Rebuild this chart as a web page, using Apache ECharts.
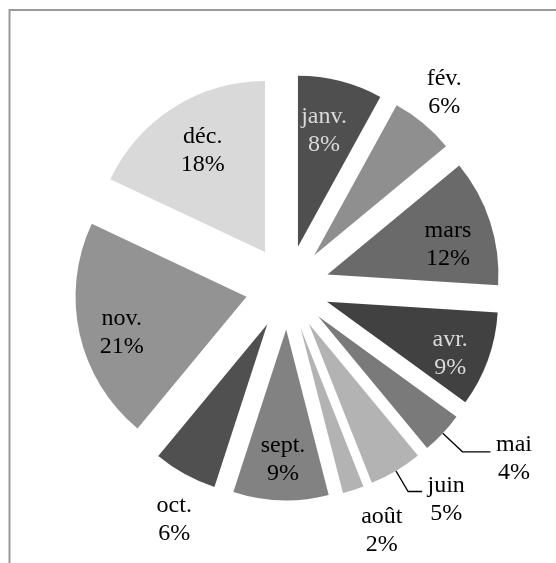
<!DOCTYPE html>
<html><head><meta charset="utf-8">
<script src="https://cdn.jsdelivr.net/npm/echarts@6/dist/echarts.min.js"></script>
<style>html,body{margin:0;padding:0;background:#fff}#c{width:556px;height:563px}</style>
</head><body><div id="c"></div>
<script>
// ---- data ----
const months = ['janv.','fév.','mars','avr.','mai','juin','août','sept.','oct.','nov.','déc.'];
const shares = [8, 6, 12, 9, 4, 5, 2, 9, 6, 21, 18];

// ---- styles ----
const sliceColors = ['#4f4f4f','#8f8f8f','#6a6a6a','#414141','#7a7a7a','#b3b3b3','#b3b3b3','#828282','#505050','#939393','#d9d9d9'];
const textColors  = ['#d9d9d9','#000','#000','#d9d9d9','#000','#000','#000','#000','#000','#000','#000'];
const innerSet  = ['janv.','mars','avr.','sept.','nov.','déc.'];
const outerSet  = ['fév.','août','oct.'];
const leaderSet = ['mai','juin'];
const innerShift = {'janv.':[-7,13],'mars':[-6,11.5],'avr.':[-2,7],'sept.':[1,-3],'nov.':[5,7],'déc.':[9,11]};
const outerShift = {'fév.':[-9,6],'août':[14,-4],'oct.':[12,4]};
// [line length, line length2, vertical spacer, text box width]
const leaderLen  = {'mai':[27,28,14,37],'juin':[24,14,17,38]};

const CENTER = [287.5, 287.5], R = 171, OFFSET = 42;
const font = {fontFamily:'"Liberation Serif","Times New Roman",serif', fontSize:24, lineHeight:28};

function items(showSet, extra) {
  return months.map((m, i) => {
    const show = showSet.indexOf(m) >= 0;
    const it = {name: m, value: shares[i], selected: true,
      label: Object.assign({show: show, color: textColors[i]}, font)};
    if (extra) extra(it, m, i, show);
    return it;
  });
}
const common = {
  type:'pie', center: CENTER, startAngle: 90, clockwise: true,
  selectedMode:'multiple', selectedOffset: OFFSET, avoidLabelOverlap: false,
  emphasis:{disabled:true}, animation:false, silent:true
};

const main = Object.assign({}, common, {
  radius: R,
  data: items(leaderSet, (it, m, i, show) => {
    it.itemStyle = {color: sliceColors[i]};
    it.label.position = 'outside';
    it.label.distanceToLabelLine = 5;
    if (show) {
      const L = leaderLen[m];
      it.label.formatter = '{sp| }\n{t|{b}}\n{t|{d}%}';
      it.label.rich = {
        sp: {fontSize: 2, lineHeight: L[2]},
        t: Object.assign({color: textColors[i], width: L[3], align: 'center'}, font)
      };
      it.labelLine = {show: true, length: L[0], length2: L[1],
                      lineStyle:{color:'#000', width:1.3}};
    } else it.labelLine = {show:false};
  }),
  label:{formatter:'{b}\n{d}%'}
});
const inner = Object.assign({}, common, {
  radius: [89, R], z: 3,
  itemStyle:{color:'rgba(0,0,0,0)'},
  label:{position:'inside', formatter:'{b}\n{d}%'},
  labelLine:{show:false},
  data: items(innerSet),
  labelLayout: p => { const s = innerShift[months[p.dataIndex]]; return s ? {dx:s[0], dy:s[1]} : {}; }
});
const outer = Object.assign({}, common, {
  radius: [R, 259], z: 3,
  itemStyle:{color:'rgba(0,0,0,0)'},
  label:{position:'inside', formatter:'{b}\n{d}%'},
  labelLine:{show:false},
  data: items(outerSet),
  labelLayout: p => { const s = outerShift[months[p.dataIndex]]; return s ? {dx:s[0], dy:s[1]} : {}; }
});

const chart = echarts.init(document.getElementById('c'), null, {renderer:'canvas'});
chart.setOption({
  animation:false,
  backgroundColor:'#fff',
  graphic:[{type:'polyline', z:-1, shape:{points:[[9.5,563],[9.5,10],[556,10]]},
            style:{stroke:'#9a9a9a', lineWidth:2, fill:null}}],
  series:[main, inner, outer]
});
</script></body></html>
